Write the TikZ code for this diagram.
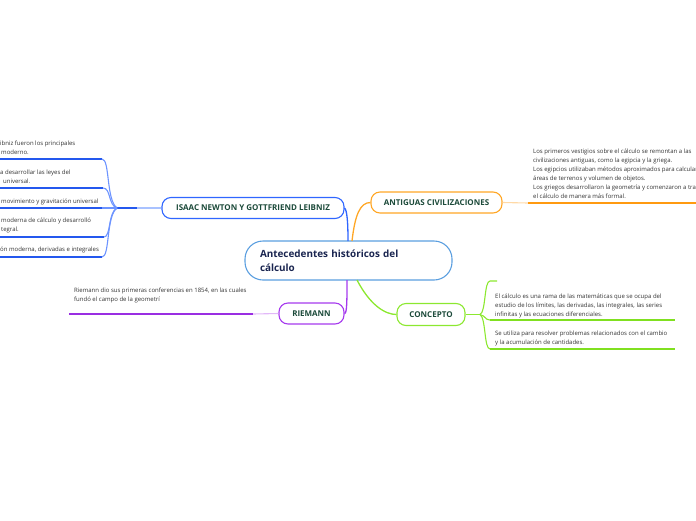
\documentclass[tikz,border=0pt]{standalone}
\usepackage{fontspec}
\setmainfont{Open Sans}
\definecolor{centralc}{HTML}{5B9FE0}
\definecolor{titletxt}{HTML}{1A2550}
\definecolor{topictxt}{HTML}{1C4A3A}
\definecolor{txtgray}{HTML}{333333}
\definecolor{bluec}{HTML}{2F66FF}
\definecolor{blueline}{HTML}{2458EE}
\definecolor{bluelight}{HTML}{A9C2FF}
\definecolor{orangec}{HTML}{FFA726}
\definecolor{orangeline}{HTML}{FF9A10}
\definecolor{orangelight}{HTML}{FFD9A6}
\definecolor{purplec}{HTML}{A63AEE}
\definecolor{purpleline}{HTML}{9A2EE2}
\definecolor{purplelight}{HTML}{E2B8F8}
\definecolor{greenc}{HTML}{8CE830}
\definecolor{greenline}{HTML}{80E020}
\begin{document}
\begin{tikzpicture}[x=1pt,y=-1pt,
  small/.style={font=\fontsize{6}{9}\selectfont, text=txtgray, inner sep=0pt, anchor=base west},
  topic/.style={draw, line width=1.1pt, rounded corners=9pt, fill=white,
    font=\fontsize{8}{9}\selectfont\bfseries, text=topictxt, minimum height=21pt, inner sep=0pt},
  conn/.style={line width=1.3pt},
  uline/.style={line width=1.5pt},
  thin/.style={line width=1.1pt}]
\useasboundingbox (0,0) rectangle (696,520);

% central
\node[draw=centralc, line width=1.1pt, rounded corners=18pt, fill=white,
  minimum width=207pt, minimum height=39pt, inner xsep=15pt, inner ysep=0pt,
  text width=177pt, align=left, font=\fontsize{9.9}{14}\selectfont\bfseries,
  text=titletxt] (c) at (348.5,260.5) {Antecedentes históricos del\\cálculo};

% topics
\node[topic, draw=bluec, minimum width=182pt] (newton) at (253,208) {ISAAC NEWTON Y GOTTFRIEND LEIBNIZ};
\node[topic, draw=orangec, minimum width=131pt] (antig) at (436.5,202.5) {ANTIGUAS CIVILIZACIONES};
\node[topic, draw=purplec, minimum width=65pt] (riem) at (311.5,313.5) {RIEMANN};
\node[topic, draw=greenc, minimum width=68pt, minimum height=22pt] (conc) at (431,314.5) {CONCEPTO};

% connectors central -> topics
\draw[conn, bluec] (348,241) .. controls (348,222) and (347,210) .. (newton.east);
\draw[conn, orangec] (352,241) .. controls (355,215) and (360,202.5) .. (antig.west);
\draw[conn, purplec] (347,280) .. controls (347,300) and (347,313.5) .. (riem.east);
\draw[conn, greenc] (357,280) .. controls (370,305) and (385,314.5) .. (conc.west);

% ---- Newton subtopics (left)
\coordinate (j1) at (117,208);
\draw[thin, bluelight] (newton.west) -- (j1);
\draw[thin, blueline] (137,208) -- (j1);
\coordinate (u1) at (102,159);
\coordinate (u2) at (103,188);
\coordinate (u3) at (102,208);
\coordinate (u4) at (104,237);
\coordinate (u5) at (102,257);
\draw[uline, blueline] (0,159) -- (u1);
\draw[uline, blueline] (0,188) -- (u2);
\draw[uline, blueline] (0,208) -- (u3);
\draw[uline, blueline] (0,237) -- (u4);
\draw[uline, blueline] (0,257) -- (u5);
\draw[thin, bluec!70] (u1) .. controls (110,159) and (106,200) .. (j1);
\draw[thin, bluec!70] (u2) .. controls (111,188) and (108,205) .. (j1);
\draw[thin, bluec!70] (u3) -- (j1);
\draw[thin, bluec!70] (u4) .. controls (111,237) and (108,212) .. (j1);
\draw[thin, bluec!70] (u5) .. controls (110,257) and (106,216) .. (j1);

\node[small] (n1a) at (0,145.5) {ibniz fueron los principales};
\node[small] (n1b) at (1,154.5) {moderno.};
\node[small] (n2a) at (0,174.5) {a desarrollar las leyes del};
\node[small] (n2b) at (3,183.5) {universal.};
\node[small] (n3a) at (1,203.5) {movimiento y gravitación universal};
\node[small] (n4a) at (1,222.5) {moderna de cálculo y desarrolló};
\node[small] (n4b) at (1,231.5) {tegral.};
\node[small] (n5a) at (0,251.5) {ón moderna, derivadas e integrales};

% ---- Antiguas civilizaciones
\coordinate (ja) at (528,203);
\draw[thin, orangelight] (antig.east) -- (ja);
\draw[uline, orangeline] (ja) -- (696,203);
\node[small] (a1) at (533,153) {Los primeros vestigios sobre el cálculo se remontan a las};
\node[small] (a2) at (533,162) {civilizaciones antiguas, como la egipcia y la griega.};
\node[small] (a3) at (533,171) {Los egipcios utilizaban métodos aproximados para calcular};
\node[small] (a4) at (533,180) {áreas de terrenos y volumen de objetos.};
\node[small] (a5) at (533,189) {Los griegos desarrollaron la geometría y comenzaron a tra};
\node[small] (a6) at (533,198) {el cálculo de manera más formal.};

% ---- Riemann
\coordinate (jr) at (253,314);
\draw[thin, purplelight] (riem.west) -- (jr);
\draw[uline, purpleline] (69,314) -- (jr);
\node[small] (r1) at (74,292) {Riemann dio sus primeras conferencias en 1854, en las cuales};
\node[small] (r2) at (74,301) {fundó el campo de la geometrí};

% ---- Concepto
\coordinate (jc) at (480,314.5);
\draw[thin, greenc] (conc.east) -- (jc);
\coordinate (s0) at (490,281);
\coordinate (s1) at (490,320);
\coordinate (s2) at (490,349);
\draw[thin, greenc] (jc) .. controls (486,312) and (484,281) .. (s0) -- (497,281);
\draw[thin, greenc] (jc) .. controls (486,316) and (485,320) .. (s1);
\draw[thin, greenc] (jc) .. controls (486,318) and (484,349) .. (s2);
\draw[uline, greenline] (s1) -- (675,320);
\draw[uline, greenline] (s2) -- (675,349);
\node[small] (k1) at (495,298) {El cálculo es una rama de las matemáticas que se ocupa del};
\node[small] (k2) at (495,307) {estudio de los límites, las derivadas, las integrales, las series};
\node[small] (k3) at (495,316) {infinitas y las ecuaciones diferenciales.};
\node[small] (k4) at (495,335) {Se utiliza para resolver problemas relacionados con el cambio};
\node[small] (k5) at (495,344) {y la acumulación de cantidades.};
\end{tikzpicture}
\end{document}
